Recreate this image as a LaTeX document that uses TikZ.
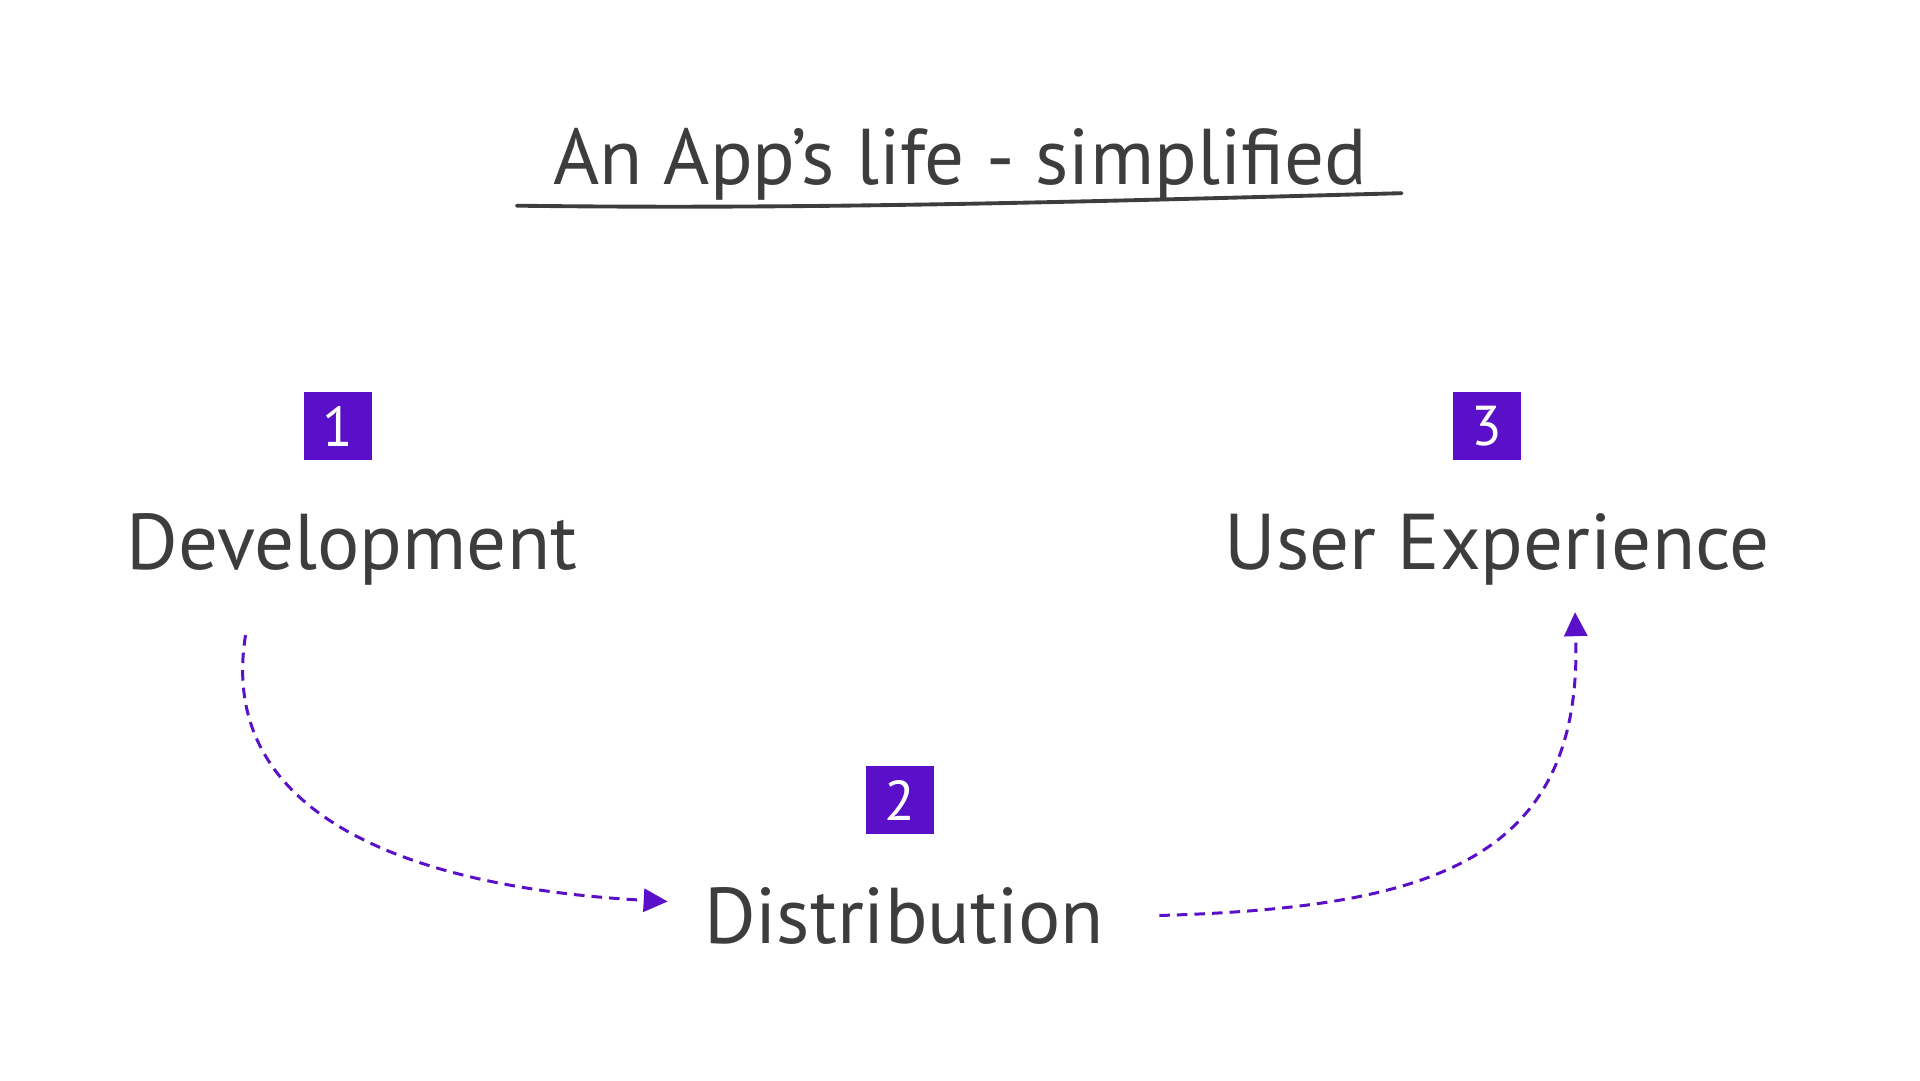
\documentclass[tikz,border=0pt]{standalone}
\usepackage{fontspec}
\setmainfont{PT Sans}
\usepackage{xcolor}
\usepackage{tikz}
\usetikzlibrary{positioning,calc,arrows.meta}

\definecolor{ink}{HTML}{3D3D3D}
\definecolor{violet}{HTML}{5A0FC8}

\begin{document}
\begin{tikzpicture}[x=0.02cm, y=-0.02cm, node distance=1cm,
        stage/.style={text=ink, inner sep=0pt, anchor=base, font=\fontsize{45}{54}\selectfont},
        numbox/.style={fill=violet, text=white, minimum size=1.36cm, inner sep=0pt, font=\fontsize{32}{38}\selectfont},
        flow/.style={->, draw=violet, line width=1.7pt, dash pattern=on 6pt off 4pt},
        >={Triangle[length=0.48cm,width=0.46cm]}
    ]
        \useasboundingbox (0,0) rectangle (1920,1080);

        % title
        \node [stage] (title) at (960,184) {An App's life - simplified};
        \draw [ink, line width=2.2pt, line cap=round] ([xshift=-0.72cm, yshift=-0.11cm]title.south west) .. controls +(300,4) and +(-300,8) .. ([xshift=0.69cm, yshift=0.14cm]title.south east);

        % stages
        \node [stage] (dev) at (352,569) {Development};
        \node [stage] (dist) at (904,943) {Distribution};
        \node [stage] (ux) at (1497,569) {User Experience};

        \node [numbox, above=1.04cm of dev, xshift=-0.28cm] (n1) {1};
        \node [numbox, above=1.04cm of dist, xshift=-0.08cm] (n2) {2};
        \node [numbox, above=1.04cm of ux, xshift=-0.2cm] (n3) {3};

        % arrows
        \draw [flow] ([xshift=2.38cm, yshift=-1.0cm]dev.south west) .. controls +(-30,186) and +(-245,-13) .. ([xshift=-0.72cm, yshift=0.28cm]dist.west);
        \draw [flow] ([xshift=1.1cm, yshift=0cm]dist.east) .. controls +(270,-8) and +(8,250) .. ([xshift=1.56cm, yshift=-0.54cm]ux.south);
    \end{tikzpicture}
\end{document}
